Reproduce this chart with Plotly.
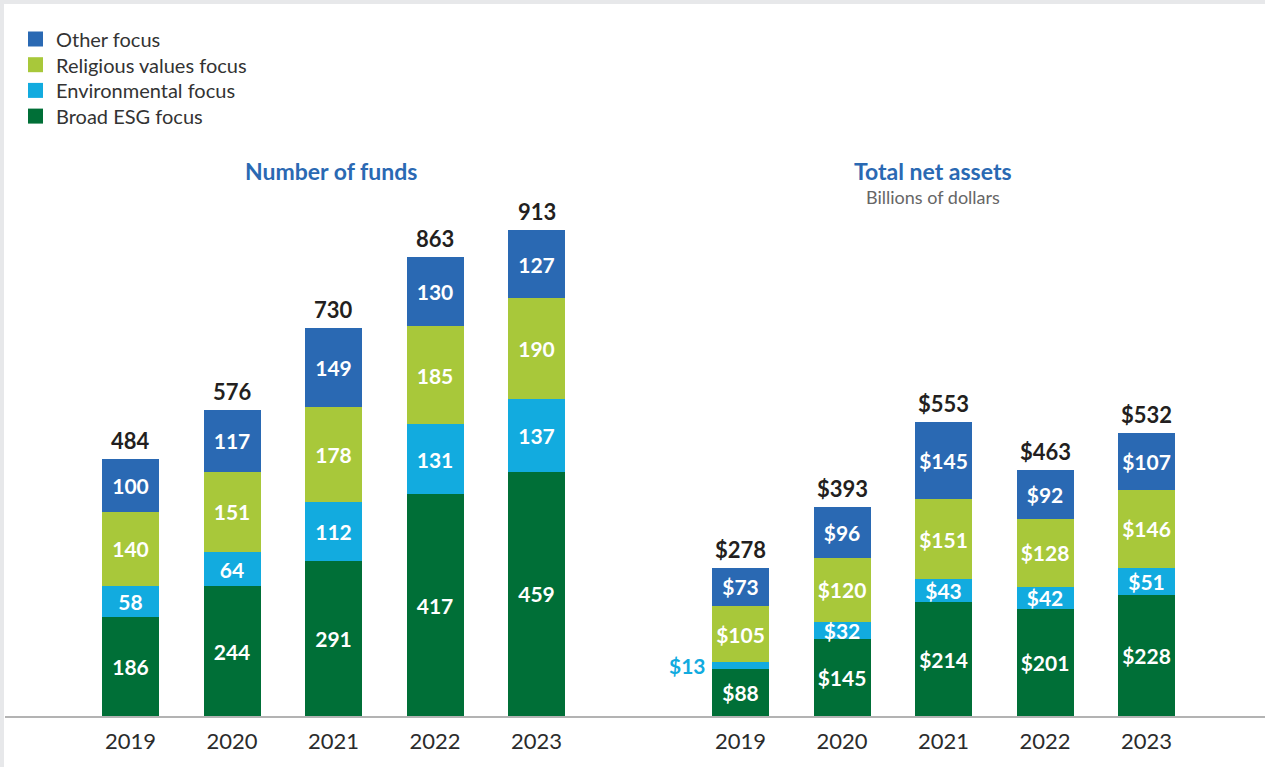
import plotly.graph_objects as go

years = ["2019", "2020", "2021", "2022", "2023"]
series_names = ["Broad ESG focus", "Environmental focus", "Religious values focus", "Other focus"]
series_colors = ["#006f37", "#12abdf", "#a8c83a", "#2a69b3"]

funds_broad = [186, 244, 291, 417, 459]
funds_env = [58, 64, 112, 131, 137]
funds_rel = [140, 151, 178, 185, 190]
funds_other = [100, 117, 149, 130, 127]
funds_total = [484, 576, 730, 863, 913]

assets_broad = [88, 145, 214, 201, 228]
assets_env = [13, 32, 43, 42, 51]
assets_rel = [105, 120, 151, 128, 146]
assets_other = [73, 96, 145, 92, 107]
assets_total = [278, 393, 553, 463, 532]

FONT = "Lato"
W, H = 1265, 767
BASE_PX = 716          # baseline pixel row
PX_PER_UNIT = 0.532    # shared vertical scale

funds = [funds_broad, funds_env, funds_rel, funds_other]
assets = [assets_broad, assets_env, assets_rel, assets_other]

fig = go.Figure()

for i, (name, color) in enumerate(zip(series_names, series_colors)):
    fig.add_trace(go.Bar(
        x=years, y=funds[i], name=name, marker=dict(color=color, line=dict(width=0)),
        text=[str(v) for v in funds[i]], textposition="inside", insidetextanchor="middle",
        textangle=0,
        textfont=dict(color="white", size=21, family=FONT, weight=700),
        constraintext="none", xaxis="x", yaxis="y", showlegend=False,
        hoverinfo="skip",
    ))
for i, (name, color) in enumerate(zip(series_names, series_colors)):
    labels = ["" if v < 20 else f"${v}" for v in assets[i]]
    fig.add_trace(go.Bar(
        x=years, y=assets[i], name=name, marker=dict(color=color, line=dict(width=0)),
        text=labels, textposition="inside", insidetextanchor="middle",
        textangle=0,
        textfont=dict(color="white", size=21, family=FONT, weight=700),
        constraintext="none", xaxis="x2", yaxis="y", showlegend=False,
        hoverinfo="skip",
    ))

annotations = []
# totals above bars (category index used as x position)
for j, y in enumerate(years):
    top = sum(s[j] for s in funds)
    annotations.append(dict(x=j, y=top, xref="x", yref="y", text=f"<b>{funds_total[j]}</b>",
                            showarrow=False, yanchor="bottom", yshift=3, xanchor="center",
                            font=dict(size=22, color="#231f20", family=FONT)))
    top2 = sum(s[j] for s in assets)
    annotations.append(dict(x=j, y=top2, xref="x2", yref="y", text=f"<b>${assets_total[j]}</b>",
                            showarrow=False, yanchor="bottom", yshift=3, xanchor="center",
                            font=dict(size=22, color="#231f20", family=FONT)))
# small environmental label outside the bar
for j, v in enumerate(assets_env):
    if v < 20:
        annotations.append(dict(x=j, y=assets_broad[j] + v / 2, xref="x2", yref="y",
                                text=f"<b>${v}</b>", showarrow=False, xanchor="right", xshift=-33,
                                yanchor="middle",
                                font=dict(size=21, color="#12abdf", family=FONT)))

# panel titles
annotations.append(dict(x=331 / W, y=1 - 171 / H, xref="paper", yref="paper", text="<b>Number of funds</b>",
                        showarrow=False, xanchor="center", yanchor="middle",
                        font=dict(size=23, color="#2a69b3", family=FONT)))
annotations.append(dict(x=933 / W, y=1 - 171 / H, xref="paper", yref="paper", text="<b>Total net assets</b>",
                        showarrow=False, xanchor="center", yanchor="middle",
                        font=dict(size=23, color="#2a69b3", family=FONT)))
annotations.append(dict(x=933 / W, y=1 - 197 / H, xref="paper", yref="paper", text="Billions of dollars",
                        showarrow=False, xanchor="center", yanchor="middle",
                        font=dict(size=18, color="#666666", family=FONT)))

shapes = [
    dict(type="rect", xref="paper", yref="paper", x0=0, x1=1, y0=1 - 4 / H, y1=1,
         fillcolor="#e7e8ea", line=dict(width=0), layer="below"),
    dict(type="rect", xref="paper", yref="paper", x0=0, x1=4 / W, y0=0, y1=1,
         fillcolor="#e7e8ea", line=dict(width=0), layer="below"),
    dict(type="line", xref="paper", yref="paper", x0=5 / W, x1=1, y0=1 - (BASE_PX + 1) / H, y1=1 - (BASE_PX + 1) / H,
         line=dict(color="#b3b3b3", width=2)),
]

# legend (top-left), listed with the top stack segment first
legend_rows = list(zip(series_names, series_colors))[::-1]
for k, (name, color) in enumerate(legend_rows):
    cy = 39 + k * 25.7
    shapes.append(dict(type="rect", xref="paper", yref="paper",
                       x0=28 / W, x1=43 / W, y0=1 - (cy + 7.5) / H, y1=1 - (cy - 7.5) / H,
                       fillcolor=color, line=dict(width=0)))
    annotations.append(dict(x=54 / W, y=1 - cy / H, xref="paper", yref="paper", text=name,
                            showarrow=False, xanchor="left", yanchor="middle",
                            font=dict(size=20, color="#333333", family=FONT)))

step = 101.5
left_c0, right_c0 = 130.5, 740.5
y_top = BASE_PX / PX_PER_UNIT

axis_common = dict(type="category", showgrid=False, showline=False, zeroline=False, ticks="",
                   tickfont=dict(size=22, color="#2b2b2b", family=FONT, weight=400), ticklabelstandoff=10,
                   automargin=False, fixedrange=True, range=[-0.5, 4.5])

fig.update_layout(
    width=W, height=H,
    margin=dict(l=0, r=0, t=0, b=0),
    paper_bgcolor="white", plot_bgcolor="rgba(0,0,0,0)",
    barmode="stack", bargap=1 - 57 / step,
    uniformtext=dict(minsize=21, mode="show"),
    font=dict(family=FONT, color="#333333"),
    xaxis=dict(domain=[(left_c0 - step / 2) / W, (left_c0 + 4.5 * step) / W], anchor="y", **axis_common),
    xaxis2=dict(domain=[(right_c0 - step / 2) / W, (right_c0 + 4.5 * step) / W], anchor="y", **axis_common),
    yaxis=dict(domain=[1 - BASE_PX / H, 1], range=[0, y_top], visible=False, fixedrange=True),
    annotations=annotations,
    shapes=shapes,
    showlegend=False,
)

fig.write_html("out.html", config={"displayModeBar": False},
               post_script="document.body.style.margin='0';document.body.style.overflow='hidden';")
